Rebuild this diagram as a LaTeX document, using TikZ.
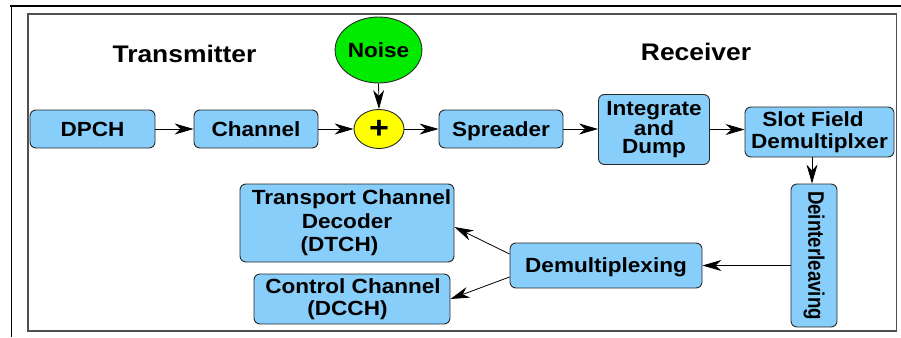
\documentclass[tikz,border=0pt]{standalone}
\usepackage{fontspec}
\setmainfont{Liberation Sans}[FakeStretch=1.1]
\newfontfamily\dfont{Liberation Sans}
\usetikzlibrary{arrows.meta,shapes.geometric,calc}
\definecolor{boxblue}{RGB}{135,206,250}
\definecolor{noisegreen}{RGB}{0,235,0}
\definecolor{plusyellow}{RGB}{255,255,0}
\definecolor{edgegray}{RGB}{40,40,40}
\definecolor{framegray}{RGB}{80,80,80}
\begin{document}
\begin{tikzpicture}[x=1pt,y=-1pt,
  blk/.style={draw=edgegray, line width=0.9pt, fill=boxblue, rounded corners=6pt,
    inner sep=0pt, align=center, font=\bfseries\fontsize{20.5}{22}\selectfont},
  oneline/.style={text height=14.7pt, text depth=0pt},
  oval/.style={ellipse, draw=edgegray, line width=0.9pt, inner sep=0pt,
    font=\bfseries\fontsize{20.5}{22}\selectfont},
  arr/.style={-{Stealth[length=19pt,width=11pt,inset=6pt]}, line width=0.8pt, black},
  title/.style={inner sep=0pt, font=\bfseries\fontsize{24}{28}\selectfont}]
\useasboundingbox (0,0) rectangle (901,337);
% frames
\draw[line width=2pt] (10,6) -- (901,6);
\draw[line width=1pt] (11,5) -- (11,337);
\draw[draw=framegray, line width=1.4pt] (28,14) rectangle (896.5,331);
% titles
\node[title] (tx) at (184.5,53.5) {Transmitter};
\node[title] (rx) at (696,52) {Receiver};
% top row
\node[blk, oneline, minimum width=125pt, minimum height=38pt] (dpch) at (92.5,129) {DPCH};
\node[blk, oneline, minimum width=124pt, minimum height=38pt] (chan) at (256,129) {Channel};
\node[oval, fill=plusyellow, minimum width=50pt, minimum height=39pt,
  font=\bfseries\fontsize{31}{31}\selectfont] (plus) at (379,129) {+};
\node[oval, fill=noisegreen, minimum width=79pt, minimum height=66pt] (noise) at (378.5,50) {Noise};
\node[blk, oneline, minimum width=124pt, minimum height=38pt] (spread) at (501,129) {Spreader};
\node[blk, minimum width=111pt, minimum height=70pt,
  font=\bfseries\fontsize{20.5}{18.5}\selectfont] (integ) at (654,129.5) {Integrate\\and\\Dump};
\node[blk, minimum width=149pt, minimum height=50pt] (slot) at (819.5,132)
  {\raisebox{-3pt}{Slot Field}\hspace*{13pt}\\\raisebox{-3pt}{Demultiplxer}};
% right column and bottom row
\node[blk, minimum width=46pt, minimum height=143pt] (deint) at (814,255.5)
  {\rotatebox{-90}{\scalebox{1}[1.2]{\dfont\bfseries\fontsize{18.7}{20}\selectfont Deinterleaving}}};
\node[blk, oneline, minimum width=192pt, minimum height=45pt] (demux) at (606,265.5) {Demultiplexing};
\node[blk, minimum width=214pt, minimum height=78pt,
  font=\bfseries\fontsize{20.5}{23.5}\selectfont] (dtch) at (347,223)
  {\hspace*{9pt}Transport Channel\\Decoder\hspace*{2pt}\\(DTCH)\hspace*{15pt}};
\node[blk, minimum width=196pt, minimum height=50pt,
  font=\bfseries\fontsize{20.5}{21.5}\selectfont] (dcch) at (352,299)
  {\hspace*{2pt}Control Channel\\(DCCH)\hspace*{9pt}};
% connectors
\draw[arr] (dpch.east) -- (chan.west);
\draw[arr] (chan.east) -- (plus.west);
\draw[arr] (noise.south) -- (plus.north);
\draw[arr] (plus.east) -- (spread.west);
\draw[arr] (spread.east) -- (spread.east -| integ.west);
\draw[arr] (integ.east) -- (integ.east -| slot.west);
\draw[arr] ([xshift=-2pt]deint.north |- slot.south) -- ([xshift=-2pt]deint.north);
\draw[arr] (demux.east -| deint.west) -- (demux.east);
\draw[arr] ($(demux.west)!0.5!(demux.north west)$) -- ([yshift=-4pt]dtch.east);
\draw[arr] ($(demux.west)!0.5!(demux.south west)$) -- (dcch.east);
\end{tikzpicture}
\end{document}
